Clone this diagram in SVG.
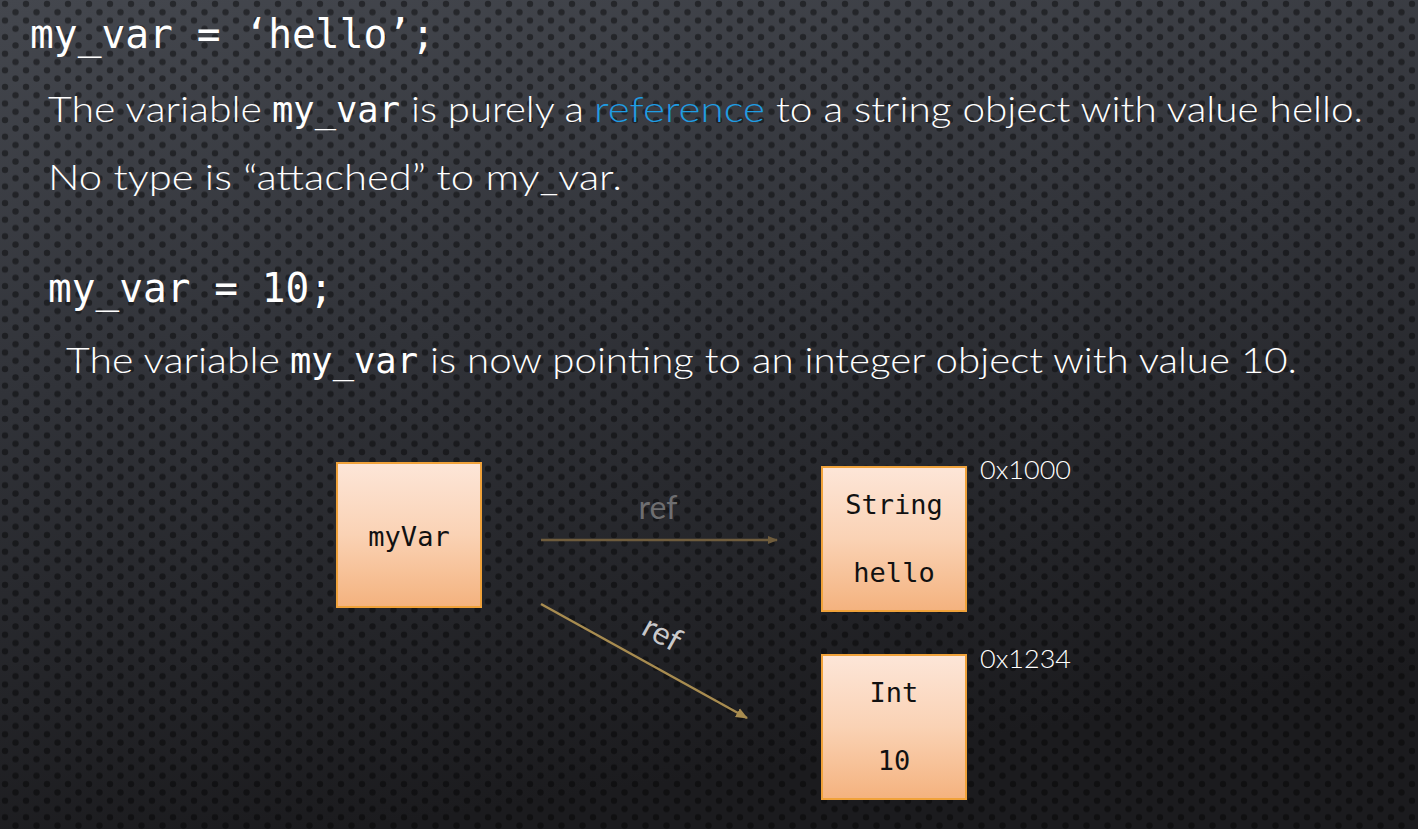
<svg xmlns="http://www.w3.org/2000/svg" width="1418" height="829" viewBox="0 0 1418 829">
<defs>
<linearGradient id="bg" x1="0" y1="0" x2="0.25" y2="1">
<stop offset="0" stop-color="#44474e"/>
<stop offset="0.45" stop-color="#313339"/>
<stop offset="1" stop-color="#1b1b1e"/>
</linearGradient>
<pattern id="dots" width="21" height="16.6" patternUnits="userSpaceOnUse">
<circle cx="5" cy="4" r="3.2" fill="#000" fill-opacity="0.42"/>
<circle cx="15.5" cy="12.3" r="3.2" fill="#000" fill-opacity="0.42"/>
</pattern>
<linearGradient id="box" x1="0" y1="0" x2="0" y2="1">
<stop offset="0" stop-color="#fde6d8"/>
<stop offset="0.5" stop-color="#fad2b4"/>
<stop offset="1" stop-color="#f4b27e"/>
</linearGradient>
<marker id="ah1" markerWidth="10" markerHeight="10" refX="9" refY="5" orient="auto" markerUnits="userSpaceOnUse">
<path d="M0,1 L10,5 L0,9 z" fill="#6f5c3c"/>
</marker>
<marker id="ah2" markerWidth="12" markerHeight="12" refX="11" refY="6" orient="auto" markerUnits="userSpaceOnUse">
<path d="M0,1 L12,6 L0,11 z" fill="#a88c50"/>
</marker>
</defs>
<style>
.mono{font-family:"DejaVu Sans Mono","Liberation Mono",monospace;fill:#ffffff}
.body{font-family:Lato,"Open Sans","Liberation Sans",sans-serif;font-weight:300;fill:#ffffff;font-size:36px}
.box{fill:url(#box);stroke:#f0a23a;stroke-width:2}
.bt{font-family:"DejaVu Sans Mono","Liberation Mono",monospace;fill:#111;font-size:27px;text-anchor:middle}
.addr{font-family:Lato,"Open Sans","Liberation Sans",sans-serif;font-weight:300;fill:#ffffff;font-size:25px}
.ref{font-family:Lato,"Open Sans","Liberation Sans",sans-serif;font-weight:400;font-size:32px;text-anchor:middle}
</style>
<rect width="1418" height="829" fill="url(#bg)"/>
<rect width="1418" height="829" fill="url(#dots)"/>

<g id="text">
<text class="mono" x="30" y="48" font-size="40" textLength="405" lengthAdjust="spacingAndGlyphs">my_var = ‘hello’;</text>
<text class="body" x="48" y="122" textLength="214" lengthAdjust="spacingAndGlyphs">The variable</text>
<text class="mono" x="272" y="122" font-size="36" textLength="128" lengthAdjust="spacingAndGlyphs">my_var</text>
<text class="body" x="411" y="122" textLength="173" lengthAdjust="spacingAndGlyphs">is purely a</text>
<text class="body" x="594" y="122" style="fill:#1f9ce2" textLength="171" lengthAdjust="spacingAndGlyphs">reference</text>
<text class="body" x="776" y="122" textLength="587" lengthAdjust="spacingAndGlyphs">to a string object with value hello.</text>
<text class="body" x="48" y="190" textLength="574" lengthAdjust="spacingAndGlyphs">No type is “attached” to my_var.</text>
<text class="mono" x="48" y="302" font-size="40" textLength="285" lengthAdjust="spacingAndGlyphs">my_var = 10;</text>
<text class="body" x="66" y="373" textLength="214" lengthAdjust="spacingAndGlyphs">The variable</text>
<text class="mono" x="290" y="373" font-size="36" textLength="128" lengthAdjust="spacingAndGlyphs">my_var</text>
<text class="body" x="430" y="373" textLength="867" lengthAdjust="spacingAndGlyphs">is now pointing to an integer object with value 10.</text>
</g>

<g id="connectors">
<line x1="541" y1="540" x2="777" y2="540" stroke="#6f5c3c" stroke-width="2.5" marker-end="url(#ah1)"/>
<line x1="541" y1="604" x2="747" y2="718" stroke="#a88c50" stroke-width="2.5" marker-end="url(#ah2)"/>
<text class="ref" x="658" y="519" fill="#6e6e70">ref</text>
<text class="ref" x="0" y="0" fill="#c9c9cb" transform="translate(657,643) rotate(29)">ref</text>
</g>

<g id="node-myVar">
<rect class="box" x="337" y="463" width="144" height="144"/>
<text class="bt" x="409" y="546">myVar</text>
</g>

<g id="node-string">
<rect class="box" x="822" y="467" width="144" height="144"/>
<text class="bt" x="894" y="514">String</text>
<text class="bt" x="894" y="582">hello</text>
<text class="addr" x="980" y="479" textLength="91" lengthAdjust="spacingAndGlyphs">0x1000</text>
</g>

<g id="node-int">
<rect class="box" x="822" y="655" width="144" height="144"/>
<text class="bt" x="894" y="702">Int</text>
<text class="bt" x="894" y="770">10</text>
<text class="addr" x="980" y="668" textLength="91" lengthAdjust="spacingAndGlyphs">0x1234</text>
</g>
</svg>
